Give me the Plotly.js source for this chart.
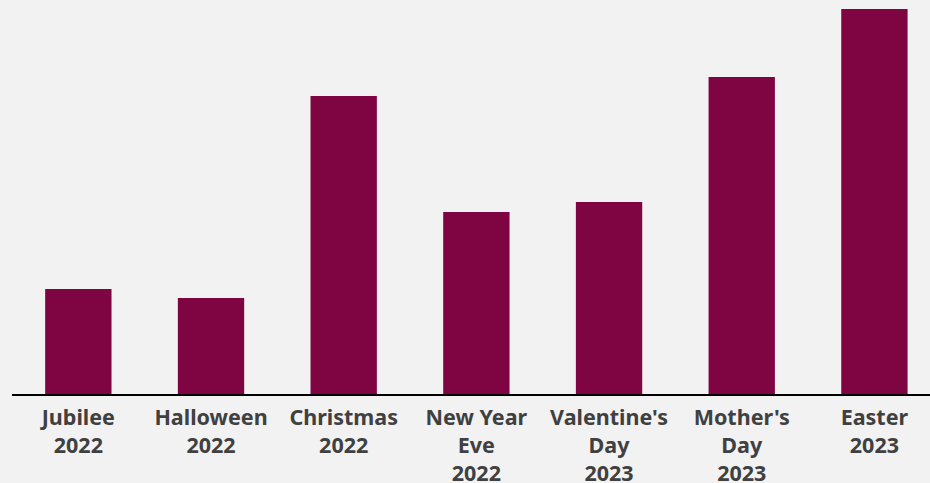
<!DOCTYPE html>
<html>
<head>
<meta charset="utf-8">
<script src="https://cdn.plot.ly/plotly-3.0.1.min.js"></script>
<style>html,body{margin:0;padding:0;background:#f2f2f2;}#chart{width:930px;height:483px;}</style>
</head>
<body>
<div id="chart"></div>
<script>
const categories = ["Jubilee<br>2022", "Halloween<br>2022", "Christmas<br>2022", "New Year<br>Eve<br>2022", "Valentine's<br>Day<br>2023", "Mother's<br>Day<br>2023", "Easter<br>2023"];
const values = [105, 96, 298, 182, 192, 317, 385];

const trace = {
  type: 'bar',
  x: categories,
  y: values,
  marker: {color: '#7f0442', line: {width: 0}},
  hoverinfo: 'none'
};

const layout = {
  width: 930, height: 483,
  paper_bgcolor: '#f2f2f2', plot_bgcolor: '#f2f2f2',
  margin: {l: 12, r: 0, t: 0, b: 89},
  bargap: 0.5,
  showlegend: false,
  font: {family: 'Noto Sans', size: 21.5, color: '#404040', weight: 'bold'},
  xaxis: {
    type: 'category',
    range: [-0.5, 6.419],
    showline: true, linecolor: '#000000', linewidth: 2,
    showgrid: false, zeroline: false, ticks: '',
    ticklabelstandoff: 3,
    tickfont: {family: 'Noto Sans', size: 21.5, color: '#404040', weight: 'bold'},
    fixedrange: true
  },
  yaxis: {
    visible: false, range: [0, 394], showgrid: false, zeroline: false, fixedrange: true
  }
};

Plotly.newPlot('chart', [trace], layout, {displayModeBar: false, staticPlot: true});
</script>
</body>
</html>
